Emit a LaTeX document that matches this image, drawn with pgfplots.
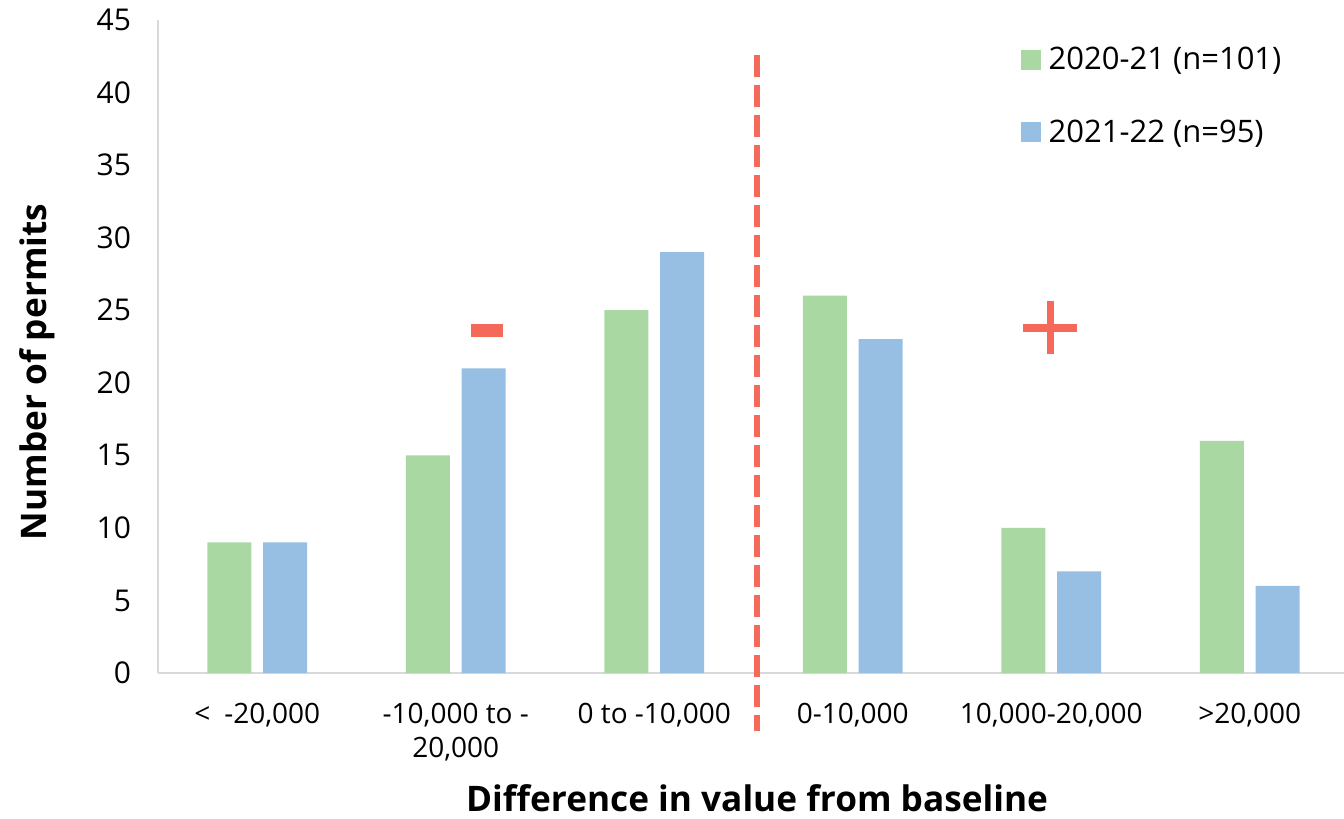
\documentclass[border=0pt]{standalone}
\usepackage{pgfplots}
\pgfplotsset{compat=1.18}
\usepackage{fontspec}
\setmainfont{Open Sans}
\definecolor{cgreen}{HTML}{A9D8A3}
\definecolor{cblue}{HTML}{97BFE3}
\definecolor{cred}{HTML}{F4695A}
\definecolor{caxis}{HTML}{D9D9D9}
\begin{document}
\begin{tikzpicture}
\begin{axis}[
  scale only axis,
  width=595.5pt, height=326.5pt,
  xmin=-0.5, xmax=5.5,
  ymin=0, ymax=45,
  ytick={0,5,...,45},
  xtick={0,1,2,3,4,5},
  xticklabels={{<\enspace-20,000},{-10,000 to -\\20,000},{0 to -10,000},{0-10,000},{10,000-20,000},{>20,000}},
  axis x line=bottom, axis y line=left,
  axis line style={-, draw=caxis, line width=1pt},
  major tick length=0pt,
  /pgf/number format/assume math mode=true,
  yticklabel style={font=\fontsize{15}{18}\selectfont, xshift=-10pt},
  xticklabel style={font=\fontsize{14}{17}\selectfont, align=center, yshift=-11.5pt},
  xlabel={\textbf{Difference in value from baseline}},
  ylabel={\textbf{Number of permits}},
  xlabel style={font=\fontsize{17.6}{21}\selectfont, at={(rel axis cs:0.503,0)}, anchor=center, yshift=-62.5pt},
  ylabel style={font=\fontsize{17.6}{21}\selectfont, at={(rel axis cs:0,0.461)}, anchor=center, yshift=60.5pt},
  clip=false,
  legend style={draw=none, fill=none, at={(rel axis cs:0.724,0.965)}, anchor=north west,
    font=\fontsize{15.5}{18}\selectfont, row sep=19.5pt, inner sep=0pt, cells={anchor=west}},
  legend cell align=left,
]
\addplot[ybar, fill=cgreen, draw=none, bar width=0.2217, bar shift=-0.141,
  legend image code/.code={\fill[cgreen] (0pt,-5pt) rectangle (10pt,5pt);}]
  coordinates {(0,9) (1,15) (2,25) (3,26) (4,10) (5,16)};
\addlegendentry{\hspace{2pt}2020-21 (n=101)}
\addplot[ybar, fill=cblue, draw=none, bar width=0.2217, bar shift=0.141,
  legend image code/.code={\fill[cblue] (0pt,-5pt) rectangle (10pt,5pt);}]
  coordinates {(0,9) (1,21) (2,29) (3,23) (4,7) (5,6)};
\addlegendentry{\hspace{2pt}2021-22 (n=95)}
\addplot[cred, line width=3pt, dash pattern=on 11pt off 4pt, forget plot]
  coordinates {(2.518,42.6) (2.518,-4)};
\fill[cred] ([xshift=-8pt,yshift=-3.25pt]axis cs:1.157,23.6) rectangle ([xshift=8pt,yshift=3.25pt]axis cs:1.157,23.6);
\fill[cred] ([xshift=-13.5pt,yshift=-2pt]axis cs:3.994,23.8) rectangle ([xshift=13.5pt,yshift=2pt]axis cs:3.994,23.8);
\fill[cred] ([xshift=-1.75pt,yshift=-13.25pt]axis cs:3.994,23.8) rectangle ([xshift=1.75pt,yshift=13.25pt]axis cs:3.994,23.8);
\end{axis}
\pgfresetboundingbox
\path (-79pt,-73pt) rectangle (593pt,336.5pt);
\end{tikzpicture}
\end{document}
